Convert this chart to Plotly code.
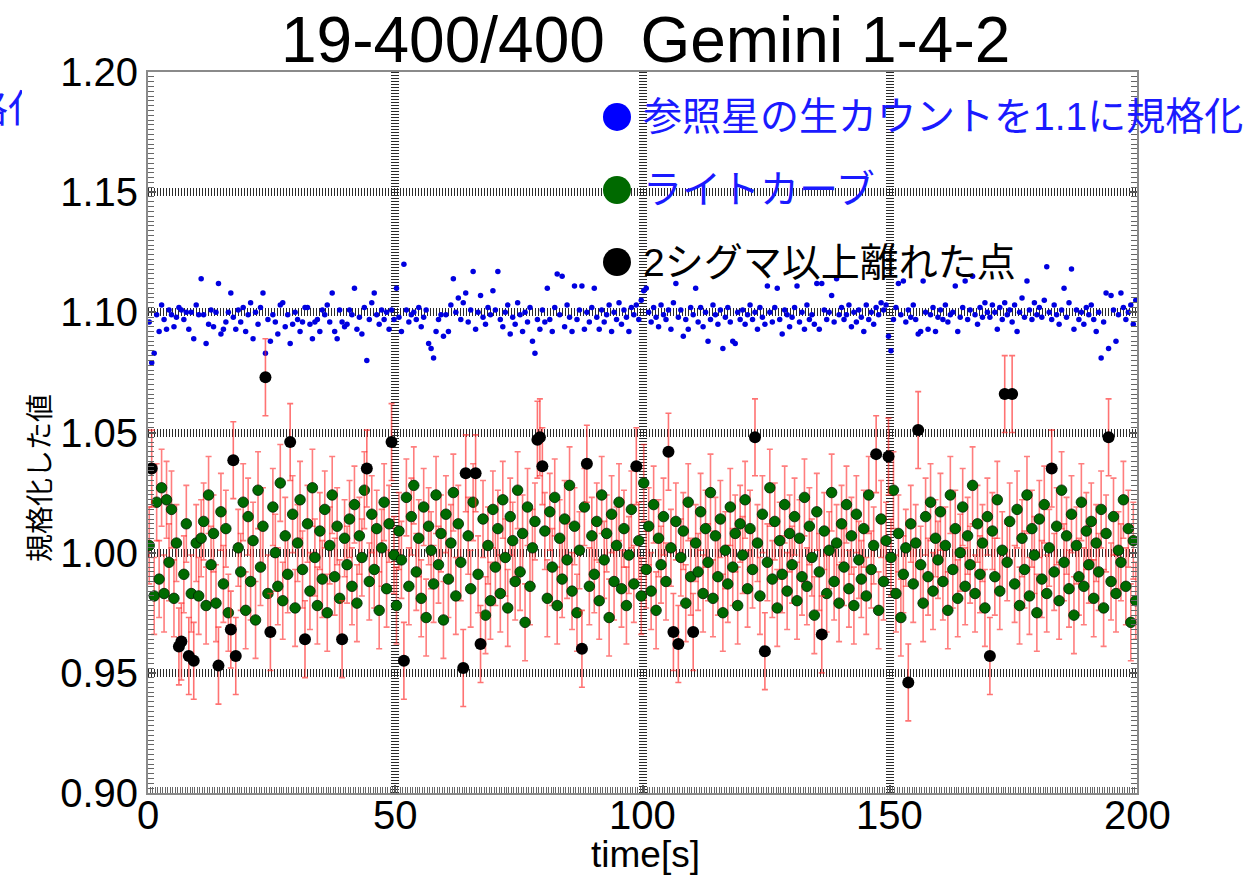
import numpy as np
import plotly.graph_objects as go

# ---------------- data ----------------
# sample index -> time (0.5 s cadence, 400 frames)
n_frames = 400
time_s = np.arange(n_frames) * 0.5 + 0.25

ref_norm = [  # reference star raw counts normalised to 1.1
 1.096,1.079,1.083,1.099,1.092,1.103,1.097,1.093,1.101,1.099,1.094,1.098,1.102,1.101,1.097,1.100,1.093,1.100,1.089,1.103,
 1.099,1.114,1.099,1.087,1.095,1.101,1.094,1.100,1.112,1.091,1.093,1.096,1.100,1.108,1.098,1.093,1.101,1.096,1.102,1.092,
 1.099,1.104,1.089,1.100,1.095,1.102,1.108,1.083,1.097,1.088,1.099,1.096,1.091,1.103,1.104,1.094,1.099,1.087,1.095,1.100,
 1.097,1.092,1.096,1.102,1.102,1.095,1.089,1.096,1.097,1.092,1.101,1.099,1.103,1.096,1.108,1.092,1.089,1.101,1.096,1.094,
 1.095,1.101,1.099,1.110,1.093,1.098,1.091,1.102,1.080,1.097,1.104,1.108,1.099,1.095,1.101,1.097,1.100,1.093,1.101,1.097,
 1.110,1.098,1.092,1.120,1.101,1.096,1.099,1.100,1.097,1.102,1.094,1.098,1.101,1.087,1.085,1.081,1.092,1.097,1.099,1.090,
 1.099,1.092,1.103,1.114,1.100,1.106,1.097,1.104,1.108,1.096,1.101,1.117,1.093,1.100,1.107,1.098,1.095,1.102,1.099,1.109,
 1.101,1.117,1.097,1.094,1.100,1.103,1.091,1.098,1.095,1.104,1.099,1.092,1.100,1.096,1.102,1.088,1.083,1.097,1.093,1.101,
 1.096,1.110,1.097,1.092,1.102,1.116,1.099,1.115,1.094,1.103,1.098,1.092,1.111,1.097,1.101,1.111,1.093,1.100,1.096,1.102,
 1.110,1.098,1.093,1.101,1.096,1.099,1.103,1.092,1.100,1.097,1.104,1.095,1.101,1.098,1.092,1.102,1.099,1.103,1.097,1.105,
 1.109,1.110,1.100,1.096,1.102,1.098,1.094,1.103,1.099,1.097,1.101,1.093,1.104,1.112,1.098,1.101,1.090,1.097,1.093,1.102,
 1.099,1.110,1.096,1.102,1.094,1.100,1.088,1.097,1.103,1.099,1.095,1.101,1.085,1.098,1.102,1.096,1.088,1.087,1.100,1.097,
 1.101,1.095,1.099,1.103,1.097,1.100,1.093,1.102,1.098,1.095,1.111,1.100,1.096,1.102,1.110,1.097,1.091,1.101,1.099,1.094,
 1.098,1.102,1.111,1.096,1.100,1.093,1.103,1.097,1.099,1.095,1.112,1.093,1.112,1.101,1.097,1.100,1.107,1.096,1.114,1.099,
 1.102,1.097,1.099,1.103,1.094,1.100,1.096,1.101,1.098,1.092,1.103,1.097,1.100,1.095,1.102,1.099,1.104,1.101,1.103,1.090,
 1.084,1.097,1.102,1.112,1.099,1.113,1.096,1.101,1.098,1.103,1.097,1.091,1.092,1.113,1.100,1.093,1.099,1.102,1.092,1.098,
 1.101,1.097,1.103,1.096,1.099,1.100,1.111,1.092,1.098,1.102,1.113,1.097,1.101,1.115,1.099,1.095,1.102,1.098,1.104,1.100,
 1.098,1.103,1.100,1.093,1.102,1.097,1.104,1.099,1.101,1.096,1.103,1.092,1.100,1.106,1.098,1.113,1.101,1.097,1.104,1.099,
 1.102,1.098,1.105,1.119,1.100,1.097,1.103,1.099,1.095,1.101,1.110,1.098,1.104,1.118,1.093,1.101,1.097,1.100,1.095,1.102,
 1.099,1.103,1.097,1.092,1.100,1.081,1.096,1.108,1.085,1.107,1.101,1.088,1.099,1.108,1.102,1.097,1.100,1.103,1.095,1.105,
]

light_curve = [  # normalised light curve of the target
 1.003,1.035,0.982,1.021,0.989,1.027,0.983,1.022,0.996,1.018,0.981,1.004,0.961,0.963,0.991,1.012,0.957,0.983,0.955,1.004,
 0.982,1.006,1.013,0.978,1.024,0.995,1.008,0.979,0.953,1.017,0.987,1.010,0.975,0.968,1.0385,0.957,1.002,0.992,1.021,0.976,
 1.015,0.988,1.005,0.972,1.026,0.994,1.011,1.073,0.983,0.967,1.019,1.000,0.986,1.029,0.980,1.007,0.991,1.046,1.016,0.977,
 1.004,1.022,0.993,0.964,1.012,0.984,1.027,0.998,0.978,1.009,0.989,1.018,0.975,1.003,1.024,0.990,1.011,0.981,0.964,1.006,
 0.995,1.014,0.986,1.020,0.979,1.007,0.998,1.026,1.035,0.988,1.016,0.993,1.010,0.976,1.002,1.021,0.985,1.012,1.046,0.999,
 0.978,1.009,0.997,0.955,1.023,0.986,1.015,1.028,0.992,1.006,0.981,1.019,0.973,1.011,1.001,0.987,1.024,0.995,1.008,0.972,
 1.016,0.989,1.004,1.025,0.982,1.012,0.996,0.952,1.033,1.007,0.985,1.021,1.033,0.991,0.962,1.014,0.974,1.003,0.980,1.018,
 0.994,1.010,0.983,1.022,0.998,0.977,1.015,1.005,0.988,1.026,0.992,1.008,0.971,1.019,0.986,1.002,1.013,1.047,1.048,1.036,
 1.009,0.981,1.017,0.994,1.023,0.978,1.006,0.989,1.014,0.997,1.028,0.984,1.011,0.975,1.001,0.960,1.019,1.037,0.986,1.007,
 0.991,1.013,0.980,1.024,0.997,1.008,0.973,1.016,0.988,1.003,1.021,0.985,1.010,0.978,0.999,1.018,0.987,1.036,1.005,0.982,
 1.029,0.993,1.011,0.984,1.020,0.976,1.006,0.995,1.015,0.988,1.042,1.002,0.967,1.013,0.962,0.998,1.009,0.979,1.021,0.990,
 0.967,1.004,0.992,1.017,0.983,1.010,0.996,1.025,0.981,1.007,0.990,1.014,0.975,1.001,0.987,1.019,0.994,1.008,0.978,1.012,
 0.999,1.022,0.985,1.010,0.993,1.048,1.004,0.982,1.016,0.959,0.996,1.027,0.989,1.013,0.977,1.005,0.991,1.020,0.984,1.008,
 0.995,1.015,0.980,1.006,0.990,1.023,0.986,1.011,0.998,0.974,1.017,0.992,0.966,1.009,0.983,1.001,1.025,0.988,1.004,0.979,
 1.012,0.994,1.020,0.985,1.007,0.978,1.016,0.997,0.989,1.010,0.982,1.024,0.993,1.003,1.041,0.976,1.014,0.988,1.005,1.040,
 0.998,1.026,0.983,1.008,0.973,0.991,1.002,0.946,1.012,0.987,1.004,1.051,0.995,0.979,1.015,0.990,1.021,0.984,1.006,0.997,
 1.017,0.988,1.003,0.976,1.024,0.993,1.010,0.981,1.000,1.019,0.986,1.007,0.995,1.028,0.983,1.012,0.991,1.004,0.977,1.015,
 0.957,1.009,0.990,1.022,0.984,1.001,1.066,0.996,1.013,1.066,0.987,1.018,0.978,1.006,0.993,1.024,0.982,1.010,0.999,0.975,
 1.014,0.989,1.020,0.983,1.002,1.035,0.992,1.011,0.980,1.026,0.996,1.007,0.985,1.016,0.974,1.003,0.990,1.021,0.986,1.009,
 0.995,1.013,0.981,1.004,0.992,1.018,0.977,1.008,1.048,0.988,1.015,0.983,1.001,0.996,1.022,0.986,1.010,0.971,1.005,0.980,
]

lc_error = 0.016  # 1-sigma error bar on the light curve

# frames more than 2 sigma away
outlier_idx = [1,12,13,16,18,28,33,34,35,47,49,57,63,78,88,98,103,127,128,132,134,
               157,158,159,175,177,197,210,212,214,220,245,249,272,294,299,307,311,
               340,346,349,365,388]

legend_labels = ["参照星の生カウントを1.1に規格化", "ライトカーブ", "2シグマ以上離れた点"]
legend_colors = ["#0000ff", "#006a00", "#000000"]
legend_text_colors = ["#1a1aff", "#1a1aff", "#000000"]
legend_y = [1.1813, 1.1509, 1.1209]

title_text = "19-400/400\u00a0 Gemini 1-4-2"
x_label = "time[s]"
y_label = "規格化した値"
x_ticks = [0, 50, 100, 150, 200]
y_ticks = [0.90, 0.95, 1.00, 1.05, 1.10, 1.15, 1.20]

# ---------------- figure ----------------
W, H = 1258, 877
px_l, px_r, px_t, px_b = 148, 1137, 72, 793

t = np.array(time_s)
lc = np.array(light_curve)
mask_out = np.zeros(n_frames, dtype=bool)
mask_out[outlier_idx] = True

FONT = "Liberation Sans, Noto Sans CJK JP, sans-serif"

fig = go.Figure()

fig.add_trace(go.Scatter(
    x=t, y=ref_norm, mode="markers",
    marker=dict(size=5.5, color="#0000e0", line=dict(width=0)),
    showlegend=False, cliponaxis=True))

fig.add_trace(go.Scatter(
    x=t[~mask_out], y=lc[~mask_out], mode="markers",
    marker=dict(size=10.5, color="#006a00", line=dict(width=0.8, color="#002000")),
    error_y=dict(type="constant", value=lc_error, color="rgba(255,40,40,0.6)",
                 thickness=1.6, width=3),
    showlegend=False))

fig.add_trace(go.Scatter(
    x=t[mask_out], y=lc[mask_out], mode="markers",
    marker=dict(size=12, color="#000000"),
    error_y=dict(type="constant", value=lc_error, color="rgba(255,40,40,0.65)",
                 thickness=1.6, width=3),
    showlegend=False))

# legend markers
fig.add_trace(go.Scatter(
    x=[94.84] * 3, y=legend_y, mode="markers",
    marker=dict(size=28, color=legend_colors, line=dict(width=0)),
    showlegend=False, cliponaxis=False))

# overflowing legend text remnant at the left edge (clipped)
fig.add_trace(go.Scatter(
    x=[47], y=[H - 112], mode="text", text=["規格化"], textposition="middle left",
    textfont=dict(size=39, color="#1a1aff", family=FONT),
    xaxis="x3", yaxis="y3", showlegend=False, cliponaxis=True))

for lab, yy, col in zip(legend_labels, legend_y, legend_text_colors):
    fig.add_annotation(x=99.6, y=yy, xref="x", yref="y", text=lab, showarrow=False,
                       xanchor="left", yanchor="middle",
                       font=dict(size=39, color=col, family=FONT))

# x tick labels
for xv in x_ticks:
    fig.add_annotation(x=xv, y=1 - 815 / H, xref="x", yref="paper", text=str(xv),
                       showarrow=False, xanchor="center", yanchor="middle",
                       font=dict(size=40, color="black", family=FONT))

fig.add_annotation(x=645 / W, y=1 - 40 / H, xref="paper", yref="paper", text=title_text,
                   showarrow=False, xanchor="center", yanchor="middle",
                   font=dict(size=64, color="black", family=FONT))
fig.add_annotation(x=645 / W, y=1 - 854 / H, xref="paper", yref="paper", text=x_label,
                   showarrow=False, xanchor="center", yanchor="middle",
                   font=dict(size=37, color="black", family=FONT))
fig.add_annotation(x=40 / W, y=1 - 478 / H, xref="paper", yref="paper", text=y_label,
                   showarrow=False, xanchor="center", yanchor="middle", textangle=-90,
                   font=dict(size=28, color="black", family=FONT))

grid_kw = dict(showgrid=True, gridcolor="#2a2a2a", gridwidth=8, griddash="1px,2px")

fig.update_layout(
    width=W, height=H,
    margin=dict(l=0, r=0, t=0, b=0),
    paper_bgcolor="white", plot_bgcolor="white",
    font=dict(family=FONT, size=40, color="black"),
    xaxis=dict(domain=[px_l / W, px_r / W], range=[0, 200], tickvals=x_ticks,
               showticklabels=False,
               ticks="inside", ticklen=8, tickcolor="#555", tickwidth=2,
               showline=True, linecolor="#8a8a8a", linewidth=2, mirror=True,
               zeroline=False, automargin=False,
               minor=dict(dtick=0.5, ticks="inside", ticklen=6, tickcolor="#666",
                          tickwidth=1, showgrid=False),
               **grid_kw),
    yaxis=dict(domain=[1 - px_b / H, 1 - px_t / H], range=[0.90, 1.20], tickvals=y_ticks,
               tickformat=".2f",
               ticks="inside", ticklen=8, tickcolor="#555", tickwidth=2,
               showline=True, linecolor="#8a8a8a", linewidth=2, mirror="allticks",
               zeroline=False, automargin=False,
               tickfont=dict(size=40, family=FONT),
               minor=dict(dtick=0.002, ticks="inside", ticklen=6, tickcolor="#666",
                          tickwidth=1, showgrid=False),
               **grid_kw),
    xaxis3=dict(domain=[0, 22 / W], range=[0, 22], visible=False, anchor="y3",
                fixedrange=True),
    yaxis3=dict(domain=[0, 1], range=[0, H], visible=False, anchor="x3",
                fixedrange=True),
)

fig.write_html("out.html")
